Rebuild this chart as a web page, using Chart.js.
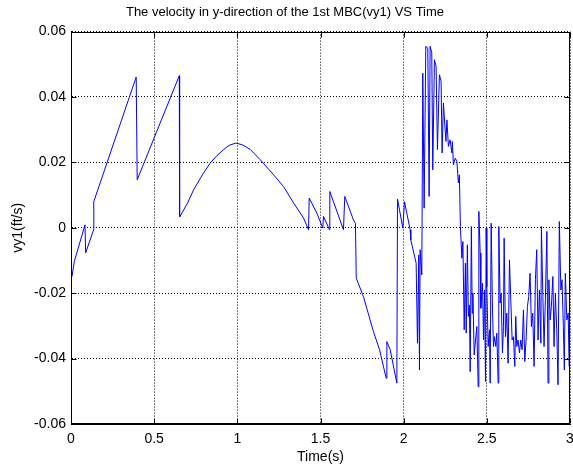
<!DOCTYPE html>
<html>
<head>
<meta charset="utf-8">
<script src="https://cdn.jsdelivr.net/npm/chart.js@4.4.1/dist/chart.umd.min.js"></script>
<style>
  html, body { margin: 0; padding: 0; background: #fff; }
  canvas { display: block; }
</style>
</head>
<body>
<canvas id="vyChart" width="573" height="469"></canvas>
<script>
// ── data ───────────────────────────────────────────────────────
const timeS = [
  0.006, 0.020, 0.084, 0.088, 0.136, 0.137, 0.392, 0.398, 0.651, 0.653,
  0.700, 0.737, 0.790, 0.837, 0.880, 0.917, 0.950, 0.990, 1.030, 1.077,
  1.138, 1.218, 1.278, 1.338, 1.398,
  1.428, 1.432, 1.478, 1.514, 1.518, 1.554, 1.556, 1.638, 1.646, 1.698,
  1.710, 1.715, 1.758, 1.818, 1.855, 1.895, 1.899, 1.919, 1.959, 1.963,
  1.995, 2.005, 2.039, 2.043, 2.075, 2.083, 2.091, 2.095, 2.099, 2.109,
  2.115, 2.123, 2.133, 2.145, 2.153, 2.159, 2.169, 2.175, 2.185, 2.195,
  2.203, 2.215, 2.225, 2.231, 2.239, 2.254, 2.260, 2.269, 2.279, 2.290,
  2.293, 2.299, 2.310, 2.320, 2.329, 2.335, 2.341, 2.350, 2.356, 2.364,
  2.371, 2.376, 2.383, 2.389, 2.395, 2.400, 2.407, 2.412, 2.416, 2.424,
  2.432, 2.440, 2.448, 2.452, 2.460, 2.464, 2.474, 2.480, 2.486, 2.492,
  2.496, 2.500, 2.508, 2.516, 2.520, 2.526, 2.534, 2.540, 2.546, 2.554,
  2.560, 2.568, 2.572, 2.580, 2.586, 2.594, 2.600, 2.604, 2.612, 2.620,
  2.628, 2.636, 2.644, 2.652, 2.660, 2.668, 2.674, 2.680, 2.688, 2.696,
  2.704, 2.712, 2.720, 2.728, 2.736, 2.744, 2.752, 2.760, 2.768, 2.776,
  2.784, 2.792, 2.800, 2.808, 2.816, 2.825, 2.828, 2.837, 2.844, 2.852,
  2.861, 2.868, 2.873, 2.881, 2.888, 2.897, 2.904, 2.912, 2.921, 2.928,
  2.936, 2.945, 2.952, 2.960, 2.966, 2.972, 2.981, 2.989, 2.995
];
const vy1 = [
  -0.0149, -0.0103, 0.0009, -0.0077, -0.0006, 0.0080, 0.0461, 0.0147, 0.0465, 0.0033,
  0.0075, 0.0116, 0.0162, 0.0198, 0.0222, 0.0239, 0.0252, 0.0259, 0.0254, 0.0240,
  0.0208, 0.0162, 0.0126, 0.0076, 0.0030,
  -0.0006, 0.0091, 0.0045, -0.0001, 0.0035, -0.0006, 0.0111, -0.0006, 0.0096, 0.0024,
  0.0014, -0.0154, -0.0210, -0.0317, -0.0373, -0.0460, -0.0348, -0.0373, -0.0475, 0.0088,
  -0.0001, 0.0080, -0.0006, -0.0037, -0.0108, -0.0353, -0.0083, -0.0435, -0.0067, -0.0144,
  0.0473, 0.0060, 0.0555, 0.0550, 0.0096, 0.0555, 0.0535, 0.0177, 0.0514, 0.0494,
  0.0239, 0.0468, 0.0448, 0.0229, 0.0382, 0.0264, 0.0330, 0.0249, 0.0269, 0.0229,
  0.0264, 0.0193, 0.0213, 0.0203, 0.0137, 0.0162, 0.0004, -0.0093, -0.0042, -0.0312,
  -0.0108, -0.0322, -0.0052, -0.0271, -0.0236, -0.0440, 0.0004, -0.0261, -0.0200, -0.0389,
  -0.0343, -0.0302, -0.0486, 0.0050, -0.0077, -0.0246, -0.0169, -0.0343, -0.0190, -0.0470,
  -0.0001, -0.0180, -0.0363, -0.0312, -0.0475, 0.0014, -0.0251, -0.0363, -0.0333, -0.0363,
  -0.0322, -0.0475, 0.0004, -0.0230, -0.0200, -0.0383, -0.0302, -0.0032, -0.0333, -0.0261,
  -0.0414, -0.0098, -0.0220, -0.0343, -0.0333, -0.0424, -0.0271, -0.0363, -0.0343, -0.0383,
  -0.0343, -0.0373, -0.0251, -0.0409, -0.0343, -0.0241, -0.0210, -0.0139, -0.0302, -0.0261,
  -0.0424, -0.0159, -0.0067, -0.0343, -0.0190, -0.0353, 0.0004, -0.0210, -0.0363, -0.0220,
  -0.0011, -0.0475, -0.0159, -0.0282, -0.0241, -0.0149, -0.0363, -0.0200, -0.0322, -0.0480,
  0.0019, -0.0190, -0.0159, -0.0302, -0.0435, -0.0139, -0.0282, -0.0261, -0.0424
];
const xTickLabels = ["0", "0.5", "1", "1.5", "2", "2.5", "3"];
const yTickLabels = ["-0.06", "-0.04", "-0.02", "0", "0.02", "0.04", "0.06"];

const FONT = "'Liberation Sans', Arial, sans-serif";

// MATLAB-style closed box with inward tick marks
const boxPlugin = {
  id: "matlabBox",
  afterDraw(chart) {
    const { ctx, chartArea: a, scales } = chart;
    const L = Math.round(a.left) + 0.5, R = Math.round(a.right) - 0.5;
    const T = Math.round(a.top) + 0.5, B = Math.round(a.bottom) - 0.5;
    ctx.save();
    ctx.strokeStyle = "#000";
    ctx.lineWidth = 1;
    ctx.strokeRect(L, T, R - L, B - T);
    ctx.beginPath();
    scales.x.ticks.forEach((t) => {
      const px = Math.round(scales.x.getPixelForValue(t.value)) + 0.5;
      ctx.moveTo(px, B); ctx.lineTo(px, B - 5);
      ctx.moveTo(px, T); ctx.lineTo(px, T + 5);
    });
    scales.y.ticks.forEach((t) => {
      const py = Math.round(scales.y.getPixelForValue(t.value)) + 0.5;
      ctx.moveTo(L, py); ctx.lineTo(L + 5, py);
      ctx.moveTo(R, py); ctx.lineTo(R - 5, py);
    });
    ctx.stroke();
    ctx.restore();
  },
};

new Chart(document.getElementById("vyChart"), {
  type: "line",
  data: {
    datasets: [{
      label: "vy1",
      data: timeS.map((t, i) => ({ x: t, y: vy1[i] })),
      borderColor: "#0000ff",
      borderWidth: 1,
      pointRadius: 0,
      tension: 0,
      fill: false,
    }],
  },
  options: {
    responsive: false,
    animation: false,
    devicePixelRatio: 1,
    layout: { padding: { left: 0, right: 3, top: 0, bottom: 0 } },
    plugins: {
      legend: { display: false },
      tooltip: { enabled: false },
      title: {
        display: true,
        text: "The velocity in y-direction of the 1st MBC(vy1) VS Time",
        color: "#000",
        font: { size: 13, family: FONT, weight: "normal" },
        padding: { top: 5, bottom: 11 },
      },
    },
    scales: {
      x: {
        type: "linear",
        min: 0,
        max: 3,
        afterFit: (s) => { s.height = 45; s.paddingLeft = 0; s.paddingRight = 0; },
        ticks: {
          stepSize: 0.5,
          color: "#000",
          padding: 7,
          maxRotation: 0,
          font: { size: 14, family: FONT },
          callback: (v, i) => xTickLabels[i],
        },
        grid: { color: "#000", drawTicks: false, lineWidth: 1 },
        border: { display: true, color: "#000", width: 1, dash: [1, 2] },
        title: {
          display: true,
          text: "Time(s)",
          color: "#000",
          font: { size: 14, family: FONT },
          padding: { top: 2, bottom: 3 },
        },
      },
      y: {
        min: -0.06,
        max: 0.06,
        afterFit: (s) => { s.width = 71; },
        ticks: {
          stepSize: 0.02,
          color: "#000",
          padding: 5,
          font: { size: 14, family: FONT },
          callback: (v, i) => yTickLabels[i],
        },
        grid: { color: "#000", drawTicks: false, lineWidth: 1 },
        border: { display: true, color: "#000", width: 1, dash: [1, 2] },
        title: {
          display: true,
          text: "vy1(ft/s)",
          color: "#000",
          font: { size: 14, family: FONT },
          padding: { top: 10, bottom: 4 },
        },
      },
    },
  },
  plugins: [boxPlugin],
});
</script>
</body>
</html>
